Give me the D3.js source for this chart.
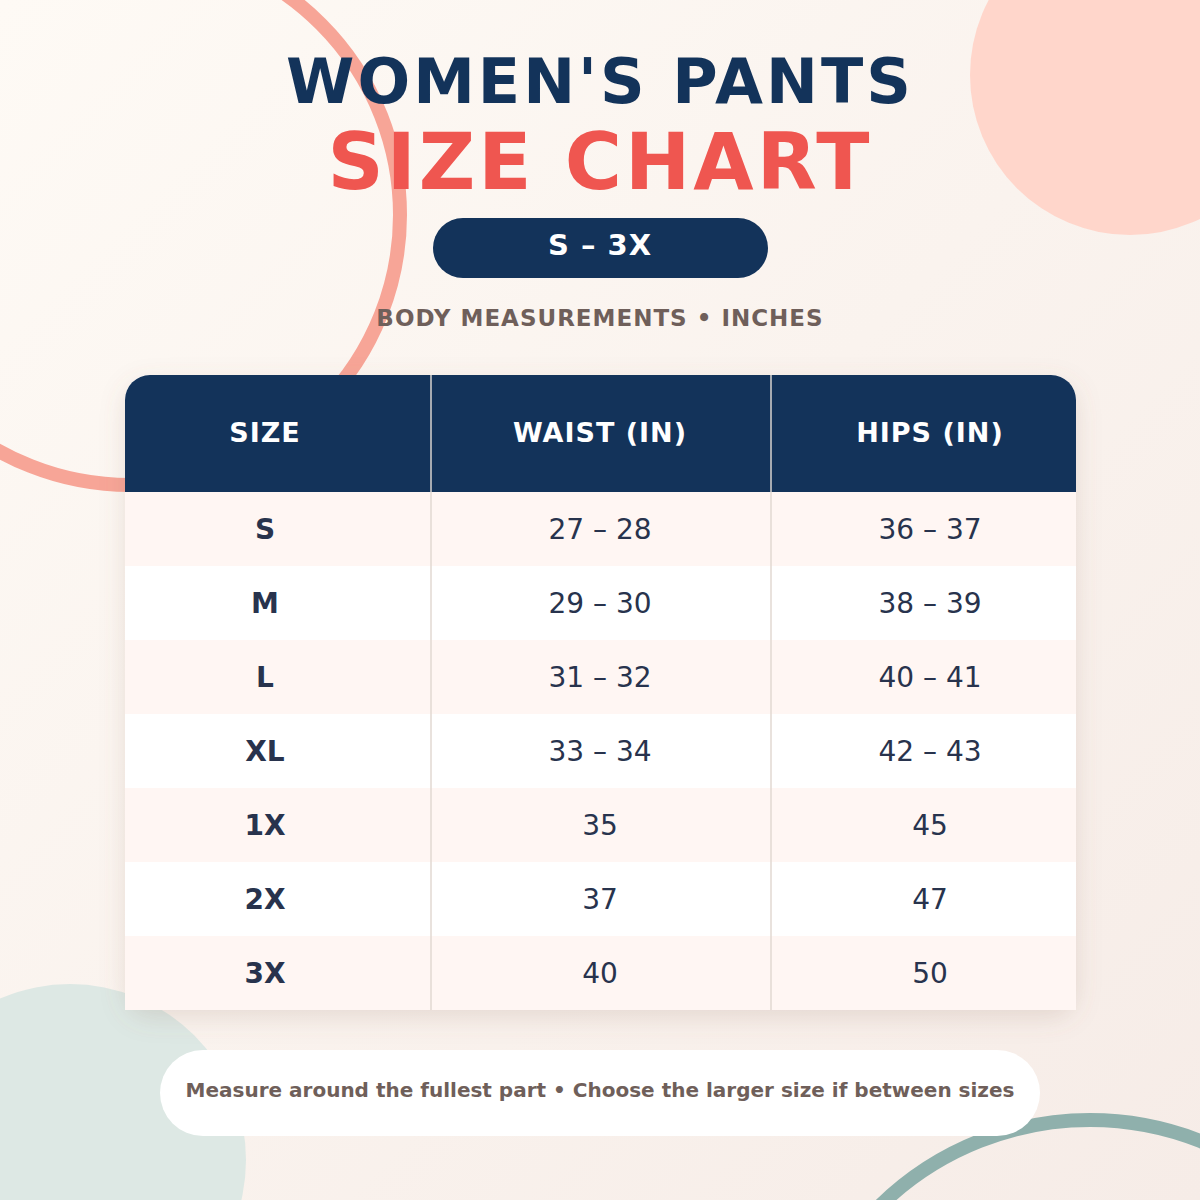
<!DOCTYPE html>
<html><head><meta charset="utf-8">
<script src="https://cdn.jsdelivr.net/npm/d3@7"></script>
<style>body{margin:0}svg{display:block}</style>
</head><body><svg id="c" width="1200" height="1200"></svg>
<script>
const headers = ["SIZE", "WAIST (IN)", "HIPS (IN)"];
const sizes = ["S", "M", "L", "XL", "1X", "2X", "3X"];
const waist = ["27 – 28", "29 – 30", "31 – 32", "33 – 34", "35", "37", "40"];
const hips = ["36 – 37", "38 – 39", "40 – 41", "42 – 43", "45", "47", "50"];

const svg = d3.select("#c");
const F = "DejaVu Sans, sans-serif";
const defs = svg.append("defs");
const g = defs.append("linearGradient").attr("id","bg").attr("x1",0).attr("y1",0).attr("x2",1).attr("y2",1);
g.append("stop").attr("offset",0).attr("stop-color","#fefaf5");
g.append("stop").attr("offset",1).attr("stop-color","#f6ece7");
const f = defs.append("filter").attr("id","sh").attr("x","-10%").attr("y","-10%").attr("width","120%").attr("height","130%");
f.append("feDropShadow").attr("dx",0).attr("dy",8).attr("stdDeviation",12).attr("flood-color","#8a6a5a").attr("flood-opacity",0.18);
const clip = defs.append("clipPath").attr("id","tc");
clip.append("path").attr("d","M125,400 a25,25 0 0 1 25,-25 H1051 a25,25 0 0 1 25,25 V1010 H125 Z");

svg.append("rect").attr("width",1200).attr("height",1200).attr("fill","url(#bg)");
svg.append("circle").attr("cx",1130).attr("cy",75).attr("r",160).attr("fill","#ffd6cb");
svg.append("circle").attr("cx",70).attr("cy",1160).attr("r",176).attr("fill","#dde8e4");
svg.append("circle").attr("cx",130).attr("cy",215).attr("r",270).attr("fill","none").attr("stroke","#f7a597").attr("stroke-width",14);
svg.append("circle").attr("cx",1090).attr("cy",1420).attr("r",300).attr("fill","none").attr("stroke","#8fb0ac").attr("stroke-width",14);

svg.append("text").attr("x",600).attr("y",103).attr("text-anchor","middle").attr("font-family",F).attr("font-weight","bold").attr("font-size",62).attr("letter-spacing",3).attr("fill","#13335a").text("WOMEN'S PANTS");
svg.append("text").attr("x",600).attr("y",189).attr("text-anchor","middle").attr("font-family",F).attr("font-weight","bold").attr("font-size",78).attr("letter-spacing",3).attr("fill","#ef5650").text("SIZE CHART");
svg.append("rect").attr("x",433).attr("y",218).attr("width",335).attr("height",60).attr("rx",30).attr("fill","#13335a");
svg.append("text").attr("x",600).attr("y",255).attr("text-anchor","middle").attr("font-family",F).attr("font-weight","bold").attr("font-size",29).attr("letter-spacing",1).attr("fill","#fff").text("S – 3X");
svg.append("text").attr("x",600).attr("y",326).attr("text-anchor","middle").attr("font-family",F).attr("font-weight","bold").attr("font-size",23).attr("letter-spacing",1).attr("fill","#6f5f5a").text("BODY MEASUREMENTS • INCHES");

const colEdges = [125, 431, 771, 1076];
const colCenters = [265, 600, 930];
const y = d3.scaleBand().domain(d3.range(sizes.length)).range([492, 1010]);

svg.append("rect").attr("x",125).attr("y",375).attr("width",951).attr("height",635).attr("rx",25).attr("fill","#fff").attr("filter","url(#sh)");
const t = svg.append("g").attr("clip-path","url(#tc)");
t.append("rect").attr("x",125).attr("y",375).attr("width",951).attr("height",117).attr("fill","#13335a");
t.selectAll(".row").data(sizes).join("rect").attr("x",125).attr("y",(d,i)=>y(i)).attr("width",951).attr("height",y.bandwidth()).attr("fill",(d,i)=>i%2===0?"#fff6f3":"#ffffff");
[431,771].forEach(x=>{
  t.append("line").attr("x1",x).attr("x2",x).attr("y1",375).attr("y2",492).attr("stroke","#d9d4d0").attr("stroke-width",1.5);
  t.append("line").attr("x1",x).attr("x2",x).attr("y1",492).attr("y2",1010).attr("stroke","#e2d8d2").attr("stroke-width",1.5);
});
headers.forEach((h,i)=>t.append("text").attr("x",colCenters[i]).attr("y",442).attr("text-anchor","middle").attr("font-family",F).attr("font-weight","bold").attr("font-size",27).attr("letter-spacing",1).attr("fill","#fff").text(h));
const cols = [sizes, waist, hips];
cols.forEach((arr,ci)=>{
  t.selectAll(".c"+ci).data(arr).join("text").attr("x",colCenters[ci]).attr("y",(d,i)=>y(i)+y.bandwidth()/2+10).attr("text-anchor","middle").attr("font-family",F).attr("font-weight",ci===0?"bold":"normal").attr("font-size",28).attr("fill","#28334d").text(d=>d);
});

svg.append("rect").attr("x",160).attr("y",1050).attr("width",880).attr("height",86).attr("rx",43).attr("fill","#fff");
svg.append("text").attr("x",600).attr("y",1097).attr("text-anchor","middle").attr("font-family",F).attr("font-weight","bold").attr("font-size",20).attr("fill","#6f5f5a").text("Measure around the fullest part • Choose the larger size if between sizes");
</script></body></html>
